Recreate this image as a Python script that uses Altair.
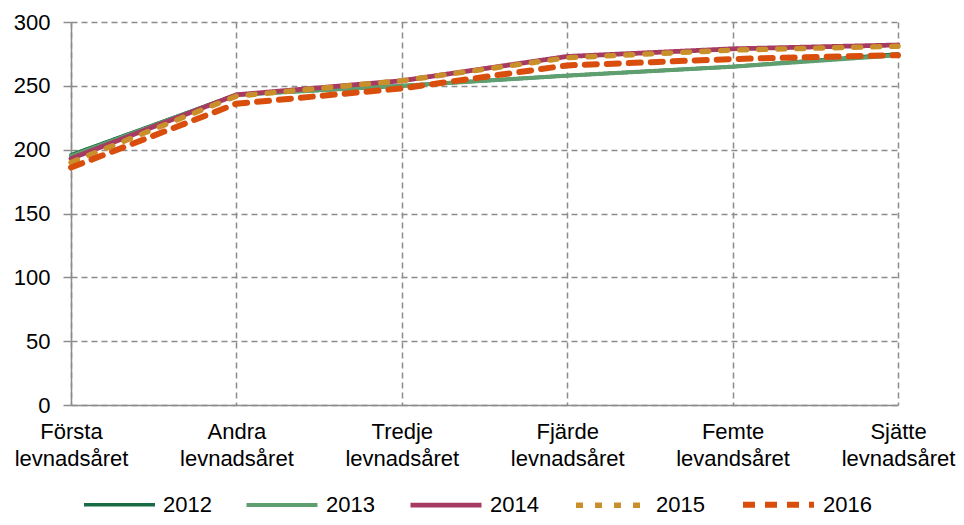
import altair as alt
import pandas as pd

categories = ["Första levnadsåret", "Andra levnadsåret", "Tredje levnadsåret",
              "Fjärde levnadsåret", "Femte levandsåret", "Sjätte levnadsåret"]
years = ["2012", "2013", "2014", "2015", "2016"]
v2012 = [196, 243, 250, 258, 265, 275]
v2013 = [195, 243, 250, 258, 265, 274]
v2014 = [193, 243, 254, 273, 279, 282]
v2015 = [190, 242, 254, 272, 278, 281]
v2016 = [186, 236, 248, 266, 271, 274]
colors = ["#186b45", "#5f9e6e", "#a63a62", "#c98f2a", "#d94e0c"]
widths = [3.5, 6, 7.5, 3.5, 5.5]
dashes = [[1, 0], [1, 0], [1, 0], [7, 12], [12, 10]]

rows = []
for y, vals in zip(years, [v2012, v2013, v2014, v2015, v2016]):
    for c, v in zip(categories, vals):
        rows.append({"cat": c, "year": y, "value": v, "order": years.index(y)})
df = pd.DataFrame(rows)

FONT = "Liberation Sans"
LEG = dict(title=None, orient="none", legendX=11, legendY=444)

chart = alt.Chart(df).mark_line(strokeCap="round").encode(
    x=alt.X("cat:N", sort=categories, title=None,
            scale=alt.Scale(type="point", padding=0),
            axis=alt.Axis(labelAngle=0, labelExpr="split(datum.label, ' ')",
                          labelFontSize=22, labelFont=FONT, labelColor="#000",
                          labelPadding=16, labelLineHeight=27, ticks=False,
                          domainColor="#8c8c8c", domainWidth=1.5,
                          grid=True, gridDash=[6, 4], gridColor="#8c8c8c",
                          gridWidth=1.5)),
    y=alt.Y("value:Q", title=None,
            scale=alt.Scale(domain=[0, 300], nice=False),
            axis=alt.Axis(values=[0, 50, 100, 150, 200, 250, 300],
                          labelFontSize=22, labelFont=FONT, labelColor="#000",
                          labelPadding=13, tickSize=8, tickColor="#8c8c8c",
                          tickWidth=1.5, domainColor="#8c8c8c", domainWidth=1.5,
                          grid=True, gridDash=[6, 4], gridColor="#8c8c8c",
                          gridWidth=1.5)),
    color=alt.Color("year:N", scale=alt.Scale(domain=years, range=colors),
                    legend=alt.Legend(direction="horizontal",
                                      symbolType="stroke", symbolSize=5041,
                                      labelFontSize=22, labelFont=FONT,
                                      labelColor="#000", columnPadding=26,
                                      labelOffset=6, **LEG)),
    strokeWidth=alt.StrokeWidth("year:N", scale=alt.Scale(domain=years, range=widths),
                                legend=alt.Legend(**LEG)),
    strokeDash=alt.StrokeDash("year:N", scale=alt.Scale(domain=years, range=dashes),
                              legend=alt.Legend(**LEG)),
    order="order:Q",
).properties(
    width=827, height=383,
    autosize=alt.AutoSizeParams(type="none"),
    padding={"left": 63, "top": 14, "right": 58, "bottom": 112},
).configure_view(stroke=None)

chart.save("out.html", embed_options={"renderer": "svg", "actions": False})
